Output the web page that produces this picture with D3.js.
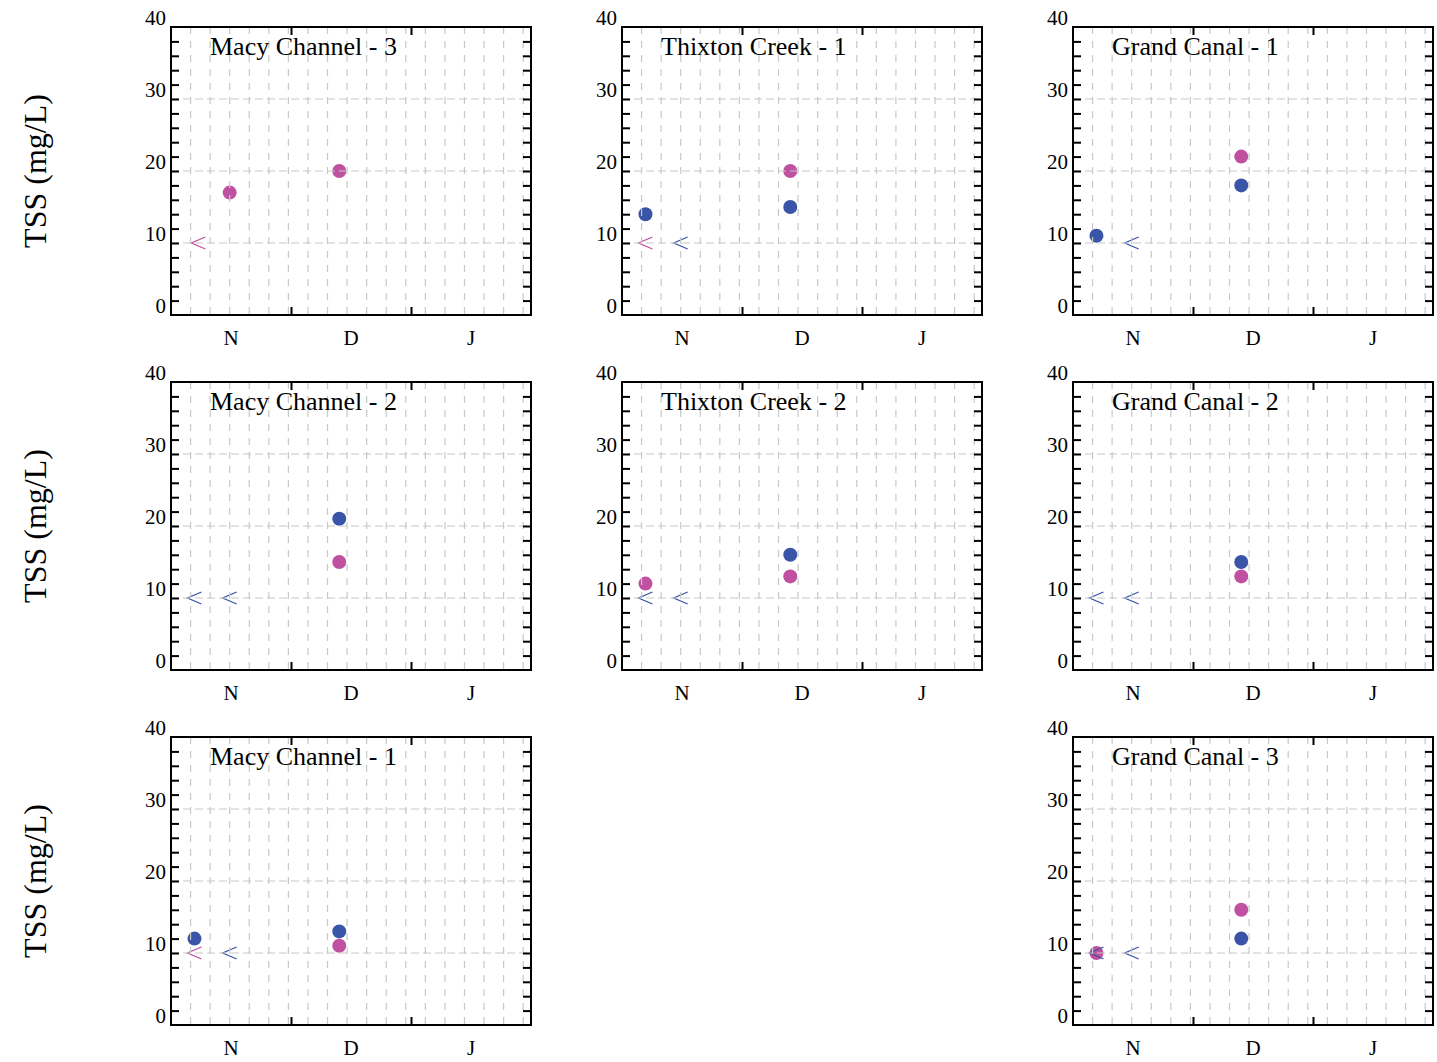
<!DOCTYPE html>
<html>
<head>
<meta charset="utf-8">
<script src="https://cdn.jsdelivr.net/npm/d3@7"></script>
<style>
  body { margin: 0; background: #fff; }
  svg text { font-family: 'Liberation Serif', 'Times New Roman', serif; fill: #000; }
</style>
</head>
<body>
<svg id="chart"></svg>
<script>
// month labels along the x axis, y tick labels
const months = ['N', 'D', 'J'];
const dayCount = 92;            // Nov 1 .. Feb 1
const yTicks = [0, 10, 20, 30, 40];

// panels in reading order (3 x 3), empty string = no panel
const siteNames = [
  'Macy Channel - 3', 'Thixton Creek - 1', 'Grand Canal - 1',
  'Macy Channel - 2', 'Thixton Creek - 2', 'Grand Canal - 2',
  'Macy Channel - 1', '', 'Grand Canal - 3'
];

// sampling days (days since Nov 1) for each panel
const sampleDays = [
  [7, 15, 43], [6, 15, 43], [6, 15, 43],
  [6, 15, 43], [6, 15, 43], [6, 15, 43],
  [6, 15, 43], [], [6, 15, 43]
];

// TSS values, '<10' = below reporting limit, null = not sampled
const pinkTSS = [
  ['<10', 17, 20], ['<10', null, 20], [null, null, 22],
  [null, null, 15], [12, null, 13], [null, null, 13],
  ['<10', null, 11], [], [10, null, 16]
];
const blueTSS = [
  [null, null, null], [14, '<10', 15], [11, '<10', 18],
  ['<10', '<10', 21], ['<10', '<10', 16], ['<10', '<10', 15],
  [12, '<10', 13], [], ['<10', '<10', 12]
];

const pinkColor = '#c050a0';
const blueColor = '#3a55a8';

const width = 360, height = 288;
const lefts = [171, 622, 1073];
const tops = [27, 382, 737];

const svg = d3.select('#chart')
    .attr('width', 1437)
    .attr('height', 1062);

const x = d3.scaleLinear().domain([0, dayCount]).range([0, width]);
const y = d3.scaleLinear().domain([0, 40]).range([height, 0]);
const monthBand = d3.scaleBand().domain(months).range([0, width]);
const monthEdge = d3.scaleLinear().domain([0, months.length]).range([0, width]);

const gridDays = d3.range(5, dayCount, 5);
const minorY = d3.range(2, 40, 2).filter(v => v % 10 !== 0);

// y axis titles, one per row
tops.forEach(t => {
  svg.append('text')
      .attr('transform', `translate(46,${t + height / 2}) rotate(-90)`)
      .attr('text-anchor', 'middle')
      .style('font-size', '32px')
      .text('TSS (mg/L)');
});

function drawMarks(g, days, values, color) {
  days.forEach((d, i) => {
    const v = values[i];
    if (v === null || v === undefined) return;
    if (typeof v === 'string') {
      const cx = x(d), cy = y(+v.slice(1));
      g.append('path')
          .attr('d', `M${cx + 7},${cy - 6}L${cx - 7},${cy}L${cx + 7},${cy + 6}`)
          .attr('fill', 'none')
          .attr('stroke', color)
          .attr('stroke-width', 1.3);
    } else {
      g.append('circle')
          .attr('cx', x(d))
          .attr('cy', y(v))
          .attr('r', 7)
          .attr('fill', color);
    }
  });
}

siteNames.forEach((name, i) => {
  if (!name) return;
  const col = i % 3, row = Math.floor(i / 3);
  const g = svg.append('g')
      .attr('transform', `translate(${lefts[col]},${tops[row]})`);

  // markers (grid goes on top of them, as in the original)
  const marks = g.append('g');
  drawMarks(marks, sampleDays[i], pinkTSS[i], pinkColor);
  drawMarks(marks, sampleDays[i], blueTSS[i], blueColor);

  // dashed grid
  g.append('g').selectAll('line')
      .data(gridDays)
    .join('line')
      .attr('x1', d => x(d)).attr('x2', d => x(d))
      .attr('y1', 0).attr('y2', height)
      .attr('stroke', '#c8c8c8')
      .attr('stroke-width', 1.2)
      .attr('stroke-dasharray', '7,7');
  g.append('g').selectAll('line')
      .data([10, 20, 30])
    .join('line')
      .attr('x1', 0).attr('x2', width)
      .attr('y1', d => y(d)).attr('y2', d => y(d))
      .attr('stroke', '#c8c8c8')
      .attr('stroke-width', 1.2)
      .attr('stroke-dasharray', '8,4');

  // y tick labels
  const yLab = g.append('g')
      .call(d3.axisLeft(y).tickValues(yTicks).tickSize(0).tickPadding(5));
  yLab.select('.domain').remove();
  yLab.selectAll('text')
      .attr('dy', '-0.1em')
      .style('font-size', '21px');

  // inward ticks, left and right
  [d3.axisLeft(y), d3.axisRight(y)].forEach((ax, k) => {
    const a = g.append('g')
        .attr('transform', k ? `translate(${width},0)` : null)
        .call(ax.tickValues(minorY.concat([10, 20, 30])).tickSize(-8).tickFormat(''));
    a.select('.domain').remove();
    a.selectAll('line').attr('stroke', '#000').attr('stroke-width', 2);
  });

  // month boundary ticks top and bottom
  [d3.axisBottom(monthEdge), d3.axisTop(monthEdge)].forEach((ax, k) => {
    const a = g.append('g')
        .attr('transform', k ? null : `translate(0,${height})`)
        .call(ax.tickValues(d3.range(1, months.length)).tickSize(-8).tickFormat(''));
    a.select('.domain').remove();
    a.selectAll('line').attr('stroke', '#000').attr('stroke-width', 2);
  });

  // month labels
  const xLab = g.append('g')
      .attr('transform', `translate(0,${height})`)
      .call(d3.axisBottom(monthBand).tickSize(0).tickPadding(15));
  xLab.select('.domain').remove();
  xLab.selectAll('text').style('font-size', '21px');

  // frame
  g.append('rect')
      .attr('width', width)
      .attr('height', height)
      .attr('fill', 'none')
      .attr('stroke', '#000')
      .attr('stroke-width', 2);

  // panel title
  g.append('text')
      .attr('x', 39)
      .attr('y', 28)
      .style('font-size', '26px')
      .text(name);
});
</script>
</body>
</html>
